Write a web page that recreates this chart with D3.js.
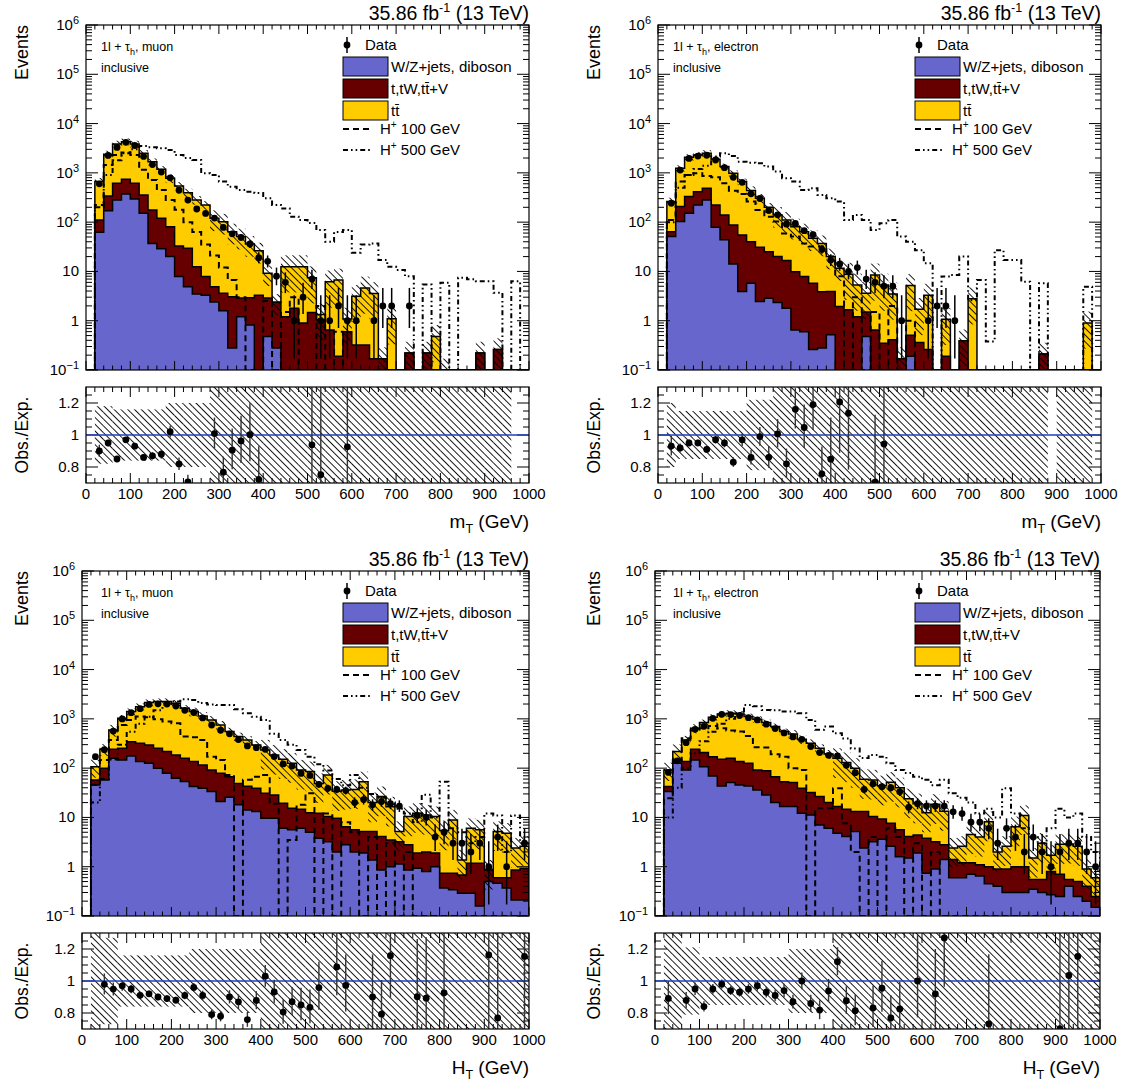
<!DOCTYPE html>
<html><head><meta charset="utf-8">
<script src="https://cdn.jsdelivr.net/npm/d3@7"></script>
<style>body{margin:0;background:#fff}svg{display:block}text{font-family:"Liberation Sans",Arial,Helvetica,sans-serif;fill:#000}</style>
</head><body><svg id="c" width="1133" height="1090"></svg>
<script>
// ---------------- DATA (20 GeV bins, 0..1000 GeV) ----------------
const binEdges = d3.range(0, 1020, 20);
const xTickLabels = ["0","100","200","300","400","500","600","700","800","900","1000"];
const ratioTickLabels = ["0.8","1","1.2"];
const lumiText = "35.86 fb";
const legendLabels = ["Data","W/Z+jets, diboson","t,tW,tt\u0304+V","tt\u0304","100 GeV","500 GeV"];

// Top-left: m_T, muon
const tlBlue=[0,62,171,282,373,295,151,37,29,20, 7.9,4.9,3.5,3.3,2.4,1.6,0.28,1.2,0.82,0, 0.48,0.28,0,0,0,0,0,0,0,0, 0,0,0,0,0,0,0,0,0,0, 0,0,0,0,0,0,0,0,0,0];
const tlRed=[0,49,168,332,367,319,204,140,91,61, 25,24.6,9,4.6,2.5,2,2.8,1.7,2.1,3.3, 2.4,2.1,1.2,1.8,0.9,1.46,1.04,0.65,0.19,0.6, 0.32,0.32,0.17,0.17,0,0,0.22,0,0.22,0, 0,0,0,0,0.22,0,0.26,0,0,0];
const tlTT=[0,553,2041,3246,3560,3246,2145,1513,1060,695, 509,367,270,215,115,98,61,48,33,23, 6.3,0,11.3,10.7,11.6,6.0,0.29,5.5,6.5,0.48, 2.8,4.3,3.4,0,1.1,0,0,0,0,0.48, 0.1,0,0,0,0,0,0,0,0,0];
const tlData=[0,598,2261,3281,4171,3590,2150,1470,1038,792, 444,280,185,150,121,78,58,49,36,19, 16,8,6,1,3,7,1,1,2,1, 1,0,1,2,2,0,2,0,0,0, 0,0,0,0,0,0,0,0,0,0];
const tlUnc=[null,0.18,0.18,0.16,0.16,0.16,0.16,0.16,0.16,0.2, 0.2,0.2,0.2,0.2,0.45,0.45,0.45,0.45,0.45,0.45, 0.45,0.45,0.7,0.7,0.7,0.7,0.7,0.7,0.7,0.7, 0.7,0.7,0.7,0.7,0.7,0.7,0.7,0.7,0.7,0.7, 0.7,0.7,0.7,0.7,0.7,0.7,0.7,0.7,null,null];
const tlH100=[0,224,1450,2300,2600,2300,1150,720,450,280, 178,100,63,35,21,12,6.7,3,0,0, 2.5,0,1.5,3,0,0,2,0,0.6,0, 0,0,0,0,0,0,0,0,0,0, 0,0,0,0,0,0,0,0,0,0];
const tlH500=[0,200,900,1800,2500,3000,3500,3300,3150,2900, 2300,2000,1830,980,910,665,525,450,415,390, 305,224,190,129,110,96,69,40,63,69, 24,35,37,17,12.4,10.7,8,0,5.4,0, 5.9,0,7.4,6.9,6.3,6.3,3.7,0,6.3,0];

// Top-right: m_T, electron
const trBlue=[0,51,103,151,224,282,79,44,14.2,3.9, 5.75,2.44,2.86,2.33,1.79,0.65,0.6,0.26,0.28,0.52, 0,0,0,0.48,0,0,0,0,0.19,0, 0,0,0,0,0,0,0,0,0,0, 0,0,0,0,0,0,0,0,0,0];
const trRed=[0,13,104,179,192,204,144,96,73.8,51.1, 34.3,28.6,22.1,17.7,14.8,9.25,7.3,5.5,3.6,3.4, 1.94,1.66,1.2,1.02,0.65,0.35,0.41,0.17,0.32,0.36, 0.26,0,0.19,0,0.39,0,0,0,0,0, 0,0,0,0.21,0,0,0,0,0,0];
const trTT=[0,197,1033,1740,1894,2014,1657,1200,889,609, 396,274,175,120,94.4,71.1,56.1,41.3,33.1,16.1, 9.66,7.14,4.1,2.1,7.85,4.95,3.09,0,4.69,1.34, 3.04,0,0.88,0,0,2.8,0,0,0,0, 0,0,0,0,0,0,0,0,0.9,0];
const trData=[0,243,1140,1967,2195,2275,1824,1273,811,644, 375,302,172,141,91,94,67,56,28,17, 14,10,12,7,6,5,5,1,0,0, 1,2,2,1,0,0,0,0,0,0, 0,0,0,0,0,0,0,0,0,0];
const trUnc=[null,0.2,0.15,0.15,0.15,0.15,0.15,0.15,0.15,0.15, 0.22,0.22,0.22,0.45,0.45,0.45,0.45,0.45,0.45,0.45, 0.45,0.7,0.7,0.7,0.7,0.7,0.7,0.7,0.7,0.7, 0.7,0.7,0.7,0.7,0.7,0.7,0.7,0.7,0.7,0.7, 0.7,0.7,0.7,0.7,null,0.7,0.7,0.7,0.7,null];
const trH100=[0,111,664,908,980,865,812,614,436,373, 261,177,129,103,59,51,37,32,32,20, 8,0,3,0,1.5,0,2,0,1,0, 0,0,0,0,0,0,0,0,0,0, 0,0,0,0,0,0,0,0,0,0];
const trH500=[0,100,500,900,1200,1400,2140,2500,2200,1690, 1610,1560,1340,1060,776,664,450,486,356,305, 261,111,140,111,69,95,111,51,40,27, 14.7,0,7.9,8.5,20,2.6,6.7,0.38,27,17, 17,6.2,0,5.75,0,0,0,0,4.9,0];

// Bottom-left: H_T, muon
const blBlue=[0,45.6,57.7,158,147,177,136,126,99.5,78.7, 62.4,53.3,42.3,39.1,33.4,21,25.6,18,14.2,13.2, 9.6,9.6,6,5.6,6,5,3.8,3.2,2,2.8, 2,1.9,1.37,0.86,1,1.14,0.86,0.93,0.8,1, 0.37,0.34,0.29,0.29,0.16,0.5,0.46,0.37,0.21,0.21];
const blRed=[0,12.1,41.8,84,106,168,184,170,153.5,138.3, 122.6,104.7,93.7,76.9,58.6,58,41.4,31,28.8,25.8, 21.4,19,13.4,9.7,8.7,7.5,8.4,7.2,7.6,3.7, 3.6,3.3,3.83,3.24,2.5,2.06,1.94,0.97,1.2,0.9, 0.37,0.4,0.39,0.88,1.01,0.36,0.14,0.23,0.65,0.72];
const blTT=[0,49.3,142.5,354,775,1058,1450,1842,1986,2022, 1885,1482,1267,1030,859,674,484,388,330,257, 203,156,132,111,77,72.5,36.8,62.6,24.4,29.5, 31.4,47.8,14.8,22.4,12.9,2,7.6,10.3,9.2,8.5, 4.66,8.16,0.69,4.83,4.43,0,4.6,4.2,1.54,1.67];
const blData=[0,171,237,566,997,1333,1611,1967,2015,1993, 1822,1492,1347,1043,751,587,496,380,283,260, 241,172,122,110,78,71,47,39,37,35, 20,23,18,21,19,17,0,11,10,4, 5,3,3,2,3,1,4,1,0,3];
const blUnc=[null,0.4,0.27,0.27,0.16,0.16,0.16,0.16,0.16,0.16, 0.16,0.16,0.2,0.2,0.2,0.2,0.2,0.2,0.2,0.2, 0.6,0.6,0.6,0.6,0.6,0.6,0.6,0.6,0.6,0.6, 0.6,0.6,0.6,0.6,0.6,0.6,0.6,0.6,0.6,0.6, 0.6,0.6,0.6,0.6,0.6,0.6,0.6,0.6,0.6,0.6];
const blH100=[0,46,147,373,753,951,1110,1077,980,879, 813,437,423,373,171,147,73,0,58,67, 73,19,0,3.5,18,31,0,12,0,8, 5,0,4,0,3,0,2,0,0,0, 0,0,0,0,0,0,0,0,0,0];
const blH500=[0,20,60,150,300,550,800,1100,1500,1900, 2250,2500,2400,2100,1950,1910,1910,1560,1300,1100, 951,500,373,300,234,171,120,90,60,45, 73,40,30,25,20,15,12,8,29,10, 53,6,5,3,4,12,11,2,11,3];

// Bottom-right: H_T, electron
const brBlue=[0,33.4,126,92,147,107,69.5,43.6,51,45.6, 43.6,36,28.6,20,16.6,16.6,12.2,11.2,7,6, 4.8,4.1,5.2,2.4,3.2,3.6,2.6,1.6,1.5,1.9, 0.74,0.9,1.4,0.6,0.6,0.7,0.65,0.45,0.4,0.3, 0.3,0.3,0.35,0.3,0.27,0.25,0.4,0.25,0.2,0.15];
const brRed=[0,8.9,21,44,95,100,101.5,107.4,107,90.4, 82.4,56,60.4,47,36.4,34.4,26.8,20.8,19.5,14, 11.8,10.6,8,10.8,7.2,5.7,5,4,2.6,2.5, 3.06,2.3,1.4,0.8,0.6,0.5,0.45,0.55,0.5,0.6, 0.7,0.7,0.2,0.25,0.53,0.45,0.15,0.25,0.2,0.1];
const brTT=[0,49.7,70,237,402,632,906,1108,1139,1123, 985,888,750,630,498,443,346,288,226.5,174, 141.4,115.3,86.3,46.2,47.3,34.7,44.4,34.4,19.9,14.6, 8.7,15.3,10.6,1.0,1.4,3.3,2.9,7.2,1.1,1.7, 5.5,10,0.95,2.45,0.9,2.15,2.35,2.1,0.5,0.35];
const brData=[0,82,140,328,612,705,1023,1234,1219,1171, 1055,951,780,634,518,430,385,275,207,182, 177,114,81,37,48,42,40,33,16,19, 17,17,17,13,12,8,8,6,3,6, 4,2,4,2,1,2,3,3,2,1];
const brUnc=[null,0.4,0.4,0.21,0.21,0.15,0.15,0.15,0.15,0.15, 0.15,0.15,0.15,0.15,0.15,0.2,0.2,0.2,0.2,0.2, 0.6,0.6,0.6,0.6,0.6,0.6,0.6,0.6,0.6,0.6, 0.6,0.6,0.6,0.6,0.6,0.6,0.6,0.6,0.6,0.6, 0.6,0.6,0.6,0.6,0.6,0.6,0.6,0.6,0.6,0.6];
const brH100=[0,24.5,147,403,578,644,718,644,578,551, 450,265,261,191,171,99.5,92,0,15.3,15.3, 39,7.6,2,0,4,0,6,4,0,3, 0,2,0,0,0,0,0,0,0,0, 0,0,0,0,0,0,0,0,0,0];
const brH500=[0,10,40,100,200,350,550,800,1000,1300, 1900,1800,1517,1500,1403,1403,1298,951,600,697, 510,400,250,160,185,171,126,92,80,67, 58,45,58,31,25,20,12,15,10,39, 12,6,4,3,6,15,10,12,4,2];

// ---------------- LAYOUT ----------------
const panels=[
 {key:"tl",x0:86,x1:529,top:25,bot:370,rTop:387,rBot:483,lx:0,ly:0,xv:"m",chan:"muon",blue:tlBlue,red:tlRed,tt:tlTT,data:tlData,unc:tlUnc,s100:tlH100,s500:tlH500},
 {key:"tr",x0:658,x1:1101,top:25,bot:370,rTop:387,rBot:483,lx:572,ly:0,xv:"m",chan:"electron",blue:trBlue,red:trRed,tt:trTT,data:trData,unc:trUnc,s100:trH100,s500:trH500},
 {key:"bl",x0:82,x1:529,top:571,bot:916,rTop:933,rBot:1029,lx:0,ly:546,xv:"H",chan:"muon",blue:blBlue,red:blRed,tt:blTT,data:blData,unc:blUnc,s100:blH100,s500:blH500},
 {key:"br",x0:655,x1:1100,top:571,bot:916,rTop:933,rBot:1029,lx:572,ly:546,xv:"H",chan:"electron",blue:brBlue,red:brRed,tt:brTT,data:brData,unc:brUnc,s100:brH100,s500:brH500}
];
const COL={blue:"#6666cc",red:"#660000",yellow:"#ffcc00",line:"#1f3fc0"};

const svg=d3.select("#c");
const defs=svg.append("defs");
defs.append("pattern").attr("id","hatch").attr("patternUnits","userSpaceOnUse")
  .attr("width",4.8).attr("height",4.8).attr("patternTransform","rotate(-45)")
  .append("line").attr("x1",2.4).attr("y1",0).attr("x2",2.4).attr("y2",4.8)
  .attr("stroke","#000").attr("stroke-width",0.9);

function gLo(n){if(n<=0)return 0;const a=1-1/(9*n)-1/(3*Math.sqrt(n));return n*a*a*a;}
function gHi(n){const m=n+1;const a=1-1/(9*m)+1/(3*Math.sqrt(m));return m*a*a*a;}

function supText(sel,base,sup,size,supSize,after){
  sel.append("tspan").text(base);
  sel.append("tspan").attr("dy",-size*0.4).attr("font-size",supSize).text(sup);
  if(after!==undefined) sel.append("tspan").attr("dy",size*0.4).attr("font-size",size).text(after);
}
function subText(sel,base,sub,size,subSize,after){
  sel.append("tspan").text(base);
  sel.append("tspan").attr("dy",size*0.28).attr("font-size",subSize).text(sub);
  if(after!==undefined) sel.append("tspan").attr("dy",-size*0.28).attr("font-size",size).text(after);
}

function drawPanel(p){
  const g=svg.append("g");
  const n=50;
  const x=d3.scaleLinear().domain([0,1000]).range([p.x0,p.x1]);
  const y=d3.scaleLog().domain([0.1,1e6]).range([p.bot,p.top]);
  const yv=v=>(v>0.1?y(Math.min(v,1e6)):p.bot);
  const yR=d3.scaleLinear().domain([0.7,1.3]).range([p.rBot,p.rTop]);
  const c1=p.blue.slice();
  const c2=p.blue.map((v,i)=>v+p.red[i]);
  const c3=c2.map((v,i)=>v+p.tt[i]);

  defs.append("clipPath").attr("id","cm"+p.key).append("rect")
    .attr("x",p.x0).attr("y",p.top).attr("width",p.x1-p.x0).attr("height",p.bot-p.top);
  defs.append("clipPath").attr("id","cr"+p.key).append("rect")
    .attr("x",p.x0).attr("y",p.rTop).attr("width",p.x1-p.x0).attr("height",p.rBot-p.rTop);

  const stepD=(vals,close)=>{
    let d=`M${x(0)},${p.bot}`;
    for(let i=0;i<n;i++) d+=`V${yv(vals[i])}H${x(binEdges[i+1])}`;
    d+=`V${p.bot}`;
    return close?d+"Z":d;
  };
  const gm=g.append("g").attr("clip-path",`url(#cm${p.key})`);
  [[c3,COL.yellow],[c2,COL.red],[c1,COL.blue]].forEach(([vals,col])=>{
    gm.append("path").attr("d",stepD(vals,true)).attr("fill",col).attr("stroke","none");
    gm.append("path").attr("d",stepD(vals,false)).attr("fill","none").attr("stroke","#000").attr("stroke-width",1.5);
  });
  p.unc.forEach((u,i)=>{
    const t=c3[i]; if(u==null||!(t>0)) return;
    const hi=yv(t*(1+u)), lo=yv(t*(1-u));
    gm.append("rect").attr("x",x(binEdges[i])).attr("width",x(binEdges[i+1])-x(binEdges[i]))
      .attr("y",hi).attr("height",Math.max(0,lo-hi)).attr("fill","url(#hatch)");
  });
  gm.append("path").attr("d",stepD(p.s100,false)).attr("fill","none").attr("stroke","#000")
    .attr("stroke-width",2).attr("stroke-dasharray","6,4");
  gm.append("path").attr("d",stepD(p.s500,false)).attr("fill","none").attr("stroke","#000")
    .attr("stroke-width",2).attr("stroke-dasharray","5,3,1.6,3,1.6,3");
  p.data.forEach((d,i)=>{
    if(!(d>0)) return;
    const cx=x(binEdges[i]+10);
    gm.append("line").attr("x1",cx).attr("x2",cx).attr("y1",yv(gLo(d))).attr("y2",yv(gHi(d)))
      .attr("stroke","#000").attr("stroke-width",1.5);
    gm.append("circle").attr("cx",cx).attr("cy",yv(d)).attr("r",3.4).attr("fill","#000");
  });
  g.append("rect").attr("x",p.x0).attr("y",p.top).attr("width",p.x1-p.x0).attr("height",p.bot-p.top)
    .attr("fill","none").attr("stroke","#000").attr("stroke-width",1.2);
  const tk=g.append("g").attr("stroke","#000").attr("stroke-width",1);
  for(let e=-1;e<=6;e++){
    const yy=y(Math.pow(10,e));
    tk.append("line").attr("x1",p.x0).attr("x2",p.x0+12).attr("y1",yy).attr("y2",yy);
    tk.append("line").attr("x1",p.x1-12).attr("x2",p.x1).attr("y1",yy).attr("y2",yy);
    if(e<6) for(let m=2;m<=9;m++){
      const y2=y(m*Math.pow(10,e));
      tk.append("line").attr("x1",p.x0).attr("x2",p.x0+6).attr("y1",y2).attr("y2",y2);
      tk.append("line").attr("x1",p.x1-6).attr("x2",p.x1).attr("y1",y2).attr("y2",y2);
    }
    const t=g.append("text").attr("x",p.x0-7).attr("y",yy+5).attr("text-anchor","end").attr("font-size",15);
    if(e===0) t.text("1"); else if(e===1) t.text("10");
    else supText(t,"10",e<0?"\u22121":String(e),15,11);
  }
  binEdges.forEach(v=>{
    const len=v%100===0?9:4.5, xx=x(v);
    tk.append("line").attr("x1",xx).attr("x2",xx).attr("y1",p.bot).attr("y2",p.bot-len);
    tk.append("line").attr("x1",xx).attr("x2",xx).attr("y1",p.top).attr("y2",p.top+len);
  });

  // ratio
  const gr=g.append("g").attr("clip-path",`url(#cr${p.key})`);
  p.unc.forEach((u,i)=>{
    if(u==null) return;
    const hi=yR(Math.min(1.35,1+u)), lo=yR(Math.max(0.65,1-u));
    gr.append("rect").attr("x",x(binEdges[i])).attr("width",x(binEdges[i+1])-x(binEdges[i]))
      .attr("y",hi).attr("height",lo-hi).attr("fill","url(#hatch)");
  });
  gr.append("line").attr("x1",p.x0).attr("x2",p.x1).attr("y1",yR(1)).attr("y2",yR(1))
    .attr("stroke",COL.line).attr("stroke-width",1.6);
  p.data.forEach((d,i)=>{
    const t=c3[i]; if(!(t>0)||!(d>0)) return;
    const r=d/t; if(r<0.695||r>1.305) return;
    const cx=x(binEdges[i]+10);
    gr.append("line").attr("x1",cx).attr("x2",cx).attr("y1",yR(Math.max(0.6,gLo(d)/t))).attr("y2",yR(Math.min(1.4,gHi(d)/t)))
      .attr("stroke","#333").attr("stroke-width",1.4);
    gr.append("circle").attr("cx",cx).attr("cy",yR(r)).attr("r",3.4).attr("fill","#000");
  });
  g.append("rect").attr("x",p.x0).attr("y",p.rTop).attr("width",p.x1-p.x0).attr("height",p.rBot-p.rTop)
    .attr("fill","none").attr("stroke","#000").attr("stroke-width",1.2);
  [0.75,0.8,0.85,0.9,0.95,1,1.05,1.1,1.15,1.2,1.25].forEach(v=>{
    const major=[0.8,1,1.2].includes(v), len=major?12:6, yy=yR(v);
    tk.append("line").attr("x1",p.x0).attr("x2",p.x0+len).attr("y1",yy).attr("y2",yy);
    tk.append("line").attr("x1",p.x1-len).attr("x2",p.x1).attr("y1",yy).attr("y2",yy);
  });
  [0.8,1,1.2].forEach((v,k)=>{
    g.append("text").attr("x",p.x0-7).attr("y",yR(v)+5).attr("text-anchor","end").attr("font-size",15).text(ratioTickLabels[k]);
  });
  binEdges.forEach(v=>{
    const len=v%100===0?10:5, xx=x(v);
    tk.append("line").attr("x1",xx).attr("x2",xx).attr("y1",p.rBot).attr("y2",p.rBot-len);
    tk.append("line").attr("x1",xx).attr("x2",xx).attr("y1",p.rTop).attr("y2",p.rTop+len);
  });
  xTickLabels.forEach((lab,k)=>{
    g.append("text").attr("x",x(k*100)).attr("y",p.rBot+16).attr("text-anchor","middle").attr("font-size",15).text(lab);
  });
  const xt=g.append("text").attr("x",p.x1).attr("y",p.rBot+45).attr("text-anchor","end").attr("font-size",19);
  subText(xt,p.xv==="m"?"m":"H","T",19,12.5," (GeV)");
  g.append("text").attr("transform",`translate(${28+p.lx},${p.top}) rotate(-90)`).attr("text-anchor","end").attr("font-size",18).text("Events");
  g.append("text").attr("transform",`translate(${28+p.lx},${(p.rTop+p.rBot)/2}) rotate(-90)`).attr("text-anchor","middle").attr("font-size",17.5).text("Obs./Exp.");
  const lt=g.append("text").attr("x",p.x1).attr("y",p.top-5).attr("text-anchor","end").attr("font-size",19.5);
  supText(lt,lumiText,"-1",19.5,12.5," (13 TeV)");
  const ct=g.append("text").attr("x",101+p.lx).attr("y",51+p.ly).attr("font-size",12.5);
  subText(ct,"1l + \u03c4","h",12.5,9,", "+p.chan);
  g.append("text").attr("x",101+p.lx).attr("y",72+p.ly).attr("font-size",12.5).text("inclusive");

  const L=g.append("g").attr("transform",`translate(${p.lx},${p.ly})`);
  L.append("line").attr("x1",347).attr("x2",347).attr("y1",37).attr("y2",53).attr("stroke","#000").attr("stroke-width",1.5);
  L.append("circle").attr("cx",347).attr("cy",45).attr("r",3.4).attr("fill","#000");
  L.append("text").attr("x",365).attr("y",50).attr("font-size",15).text(legendLabels[0]);
  [[COL.blue,57,legendLabels[1]],[COL.red,79,legendLabels[2]],[COL.yellow,101,legendLabels[3]]].forEach(([c,yy,lab])=>{
    L.append("rect").attr("x",343).attr("y",yy).attr("width",45).attr("height",19).attr("fill",c).attr("stroke","#000").attr("stroke-width",1);
    L.append("text").attr("x",391).attr("y",yy+15).attr("font-size",15).text(lab);
  });
  [["6,4",129,legendLabels[4]],["5,3,1.6,3,1.6,3",150,legendLabels[5]]].forEach(([da,yy,lab])=>{
    L.append("line").attr("x1",343).attr("x2",371).attr("y1",yy).attr("y2",yy).attr("stroke","#000").attr("stroke-width",2).attr("stroke-dasharray",da);
    const t=L.append("text").attr("x",380).attr("y",yy+5).attr("font-size",15);
    supText(t,"H","+",15,10," "+lab);
  });
}
panels.forEach(drawPanel);
</script></body></html>
